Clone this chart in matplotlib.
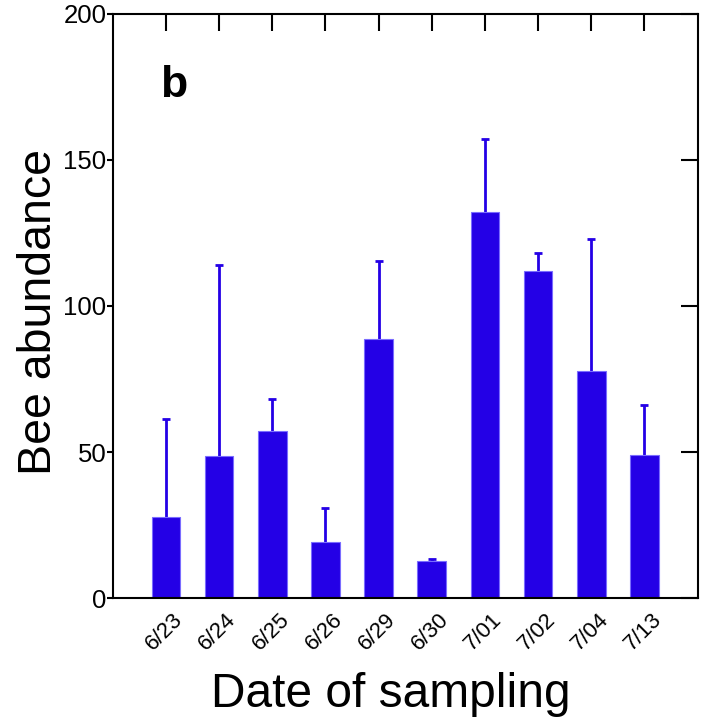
import numpy as np
import matplotlib.pyplot as plt
import matplotlib.transforms as mtrans

plt.rcParams['font.family'] = ['Liberation Sans', 'DejaVu Sans']

dates = ['6/23', '6/24', '6/25', '6/26', '6/29', '6/30', '7/01', '7/02', '7/04', '7/13']
abundance = [27.7, 48.8, 57.3, 19.2, 88.7, 12.9, 132.2, 111.8, 77.9, 49.0]
upper = [61.4, 114.0, 68.2, 30.9, 115.2, 13.6, 157.2, 118.0, 122.8, 66.1]
err = [u - a for u, a in zip(upper, abundance)]

bar_col = '#2400e6'

fig = plt.figure(figsize=(7.07, 7.19), dpi=100)
ax = fig.add_axes([0.1594, 0.1679, 0.8274, 0.8133])

x = np.arange(1, len(dates) + 1)
# symmetric error bars drawn behind the bars, so only the upper half shows
ax.errorbar(x, abundance, yerr=err, fmt='none', ecolor=bar_col,
            elinewidth=2.0, capsize=3, capthick=2.0, zorder=1)
ax.bar(x, abundance, width=0.54, color=bar_col, edgecolor='#7a6cff', linewidth=0.8, zorder=2)

ax.set_xlim(0, 11)
ax.set_ylim(0, 200)
ax.set_yticks([0, 50, 100, 150, 200])
ax.set_xticks(x)
ax.set_xticklabels(dates, rotation=45, ha='right', va='center',
                   rotation_mode='anchor', fontsize=16)

for s in ax.spines.values():
    s.set_linewidth(1.5)

ax.tick_params(axis='y', left=True, right=True, direction='out', length=4,
               width=1.5, labelsize=18.5, pad=0.5)
ax.tick_params(axis='x', bottom=False, top=True, direction='in', length=12, width=1.5, pad=0)
# right ticks point inward
for t in ax.yaxis.get_major_ticks():
    t.tick2line.set_marker(0)
    t.tick2line.set_markersize(12)

# shift the rotated date labels into place
off = mtrans.ScaledTranslation(14 / 100, -18 / 100, fig.dpi_scale_trans)
for lab in ax.get_xticklabels():
    lab.set_transform(lab.get_transform() + off)

ax.set_ylabel('Bee abundance', fontsize=33.5)
ax.yaxis.set_label_coords(-0.088, 0.49)
ax.set_xlabel('Date of sampling', fontsize=34.5)
ax.xaxis.set_label_coords(0.476, -0.126)
ax.text(0.081, 0.858, 'b', transform=ax.transAxes, fontsize=32, fontweight='bold')

fig.savefig('out.png', dpi=100)
